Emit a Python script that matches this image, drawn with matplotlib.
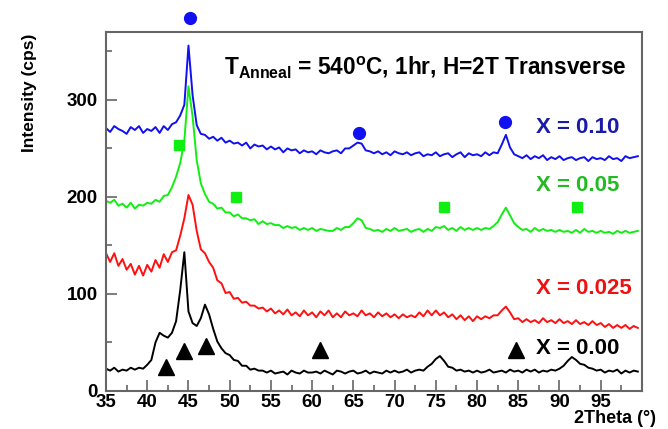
import numpy as np
import matplotlib
matplotlib.use('Agg')
import matplotlib.pyplot as plt
from matplotlib.ticker import MultipleLocator

plt.rcParams['font.family'] = ['Liberation Sans', 'DejaVu Sans']
plt.rcParams['mathtext.fontset'] = 'custom'
plt.rcParams['mathtext.rm'] = 'Liberation Sans:bold'
plt.rcParams['mathtext.bf'] = 'Liberation Sans:bold'

# 2theta grid, 0.5 deg steps (35.0 ... 99.5)
two_theta = np.arange(35.0, 100.0, 0.5)

# intensities (already offset as in the figure)
x010 = [271, 267, 273, 270, 268, 265, 272, 269, 273, 266,
        270, 268, 272, 266, 273, 269, 275, 277, 284, 295,
        356, 305, 274, 265, 264, 260, 262, 258, 261, 256,
        258, 255, 256, 253, 256, 250, 254, 252, 253, 249,
        252, 249, 251, 246, 250, 248, 249, 245, 248, 246,
        247, 244, 248, 246, 245, 247, 248, 245, 250, 250,
        253, 256, 255, 248, 247, 245, 247, 244, 246, 243,
        247, 245, 244, 246, 243, 245, 246, 242, 244, 243,
        246, 242, 244, 245, 241, 244, 246, 241, 245, 243,
        244, 242, 246, 243, 246, 245, 254, 264, 251, 244,
        242, 240, 243, 239, 242, 240, 243, 238, 241, 239,
        242, 238, 240, 241, 238, 240, 241, 237, 241, 239,
        240, 238, 242, 239, 240, 237, 242, 240, 241, 242]

x005 = [196, 194, 197, 191, 193, 189, 194, 188, 192, 191,
        194, 193, 197, 195, 201, 202, 210, 221, 235, 258,
        314, 283, 238, 214, 203, 195, 193, 188, 189, 184,
        184, 180, 182, 178, 178, 176, 177, 172, 175, 172,
        173, 171, 171, 168, 170, 168, 169, 166, 168, 166,
        168, 165, 167, 166, 165, 165, 168, 166, 169, 169,
        173, 178, 176, 168, 167, 165, 166, 164, 167, 165,
        168, 165, 166, 167, 164, 166, 167, 164, 167, 165,
        169, 168, 170, 166, 168, 165, 169, 166, 168, 166,
        168, 166, 168, 167, 170, 174, 182, 189, 181, 173,
        169, 166, 167, 164, 168, 165, 167, 165, 166, 164,
        166, 164, 165, 163, 166, 163, 167, 164, 165, 163,
        165, 163, 164, 162, 165, 163, 165, 163, 164, 165]

x0025 = [142, 133, 142, 129, 136, 125, 131, 120, 129, 119,
         130, 123, 135, 127, 141, 133, 143, 145, 160, 178,
         202, 192, 165, 146, 142, 133, 127, 114, 111, 101,
         102, 95, 96, 91, 92, 88, 88, 85, 86, 82,
         85, 80, 83, 79, 84, 78, 81, 77, 83, 78,
         81, 76, 82, 78, 83, 76, 80, 76, 82, 78,
         80, 77, 83, 78, 80, 76, 81, 77, 80, 76,
         79, 75, 79, 76, 78, 76, 81, 77, 83, 78,
         83, 78, 81, 76, 79, 74, 78, 73, 77, 72,
         77, 74, 77, 75, 78, 78, 83, 87, 81, 74,
         75, 71, 74, 71, 73, 70, 75, 71, 73, 70,
         74, 70, 72, 69, 73, 69, 71, 68, 72, 68,
         70, 66, 69, 65, 68, 65, 68, 64, 67, 65]

x000 = [23, 21, 24, 20, 22, 21, 24, 22, 24, 23,
        27, 32, 50, 60, 57, 55, 60, 72, 104, 143,
        82, 70, 67, 75, 89, 79, 64, 51, 44, 39,
        37, 32, 31, 26, 26, 22, 23, 21, 21, 19,
        21, 18, 19, 20, 17, 21, 19, 18, 21, 19,
        19, 20, 18, 21, 19, 17, 21, 20, 18, 20,
        21, 18, 19, 21, 18, 20, 19, 18, 21, 19,
        21, 19, 20, 22, 19, 21, 22, 21, 25, 28,
        33, 36, 31, 25, 24, 21, 22, 20, 21, 19,
        21, 19, 20, 22, 19, 20, 21, 19, 22, 20,
        21, 19, 22, 20, 22, 19, 21, 20, 22, 21,
        23, 26, 31, 35, 32, 28, 27, 24, 23, 21,
        22, 19, 21, 20, 22, 18, 21, 19, 21, 20]

# phase markers
circle_x = [45.2, 65.7, 83.4]
circle_y = [384, 266, 277]
square_x = [43.8, 50.8, 76.0, 92.1]
square_y = [254, 200, 190, 190]
tri_x = [42.3, 44.4, 47.1, 60.9, 84.7]
tri_y = [25, 41, 46, 42, 42]

blue = '#1010f0'
green = '#11ee11'
red = '#ff1010'

fig = plt.figure(figsize=(6.68, 4.29), dpi=100)
ax = fig.add_axes([0.1587, 0.0886, 0.8023, 0.8368])

ax.plot(two_theta, x010, color=blue, lw=1.4)
ax.plot(two_theta, x005, color=green, lw=1.4)
ax.plot(two_theta, x0025, color=red, lw=1.4)
ax.plot(two_theta, x000, color='black', lw=1.4)

ax.plot(circle_x, circle_y, 'o', color=blue, ms=8.5, ls='none', clip_on=False)
ax.plot(square_x, square_y, 's', color=green, ms=7.5, ls='none')
ax.plot(tri_x, tri_y, '^', color='black', ms=11, ls='none')

ax.set_xlim(35, 100)
ax.set_ylim(0, 370)
ax.xaxis.set_minor_locator(MultipleLocator(2.5))
ax.yaxis.set_major_locator(MultipleLocator(100))
ax.yaxis.set_minor_locator(MultipleLocator(50))
ax.set_xticks(np.arange(35, 100, 5))
ax.tick_params(which='both', direction='in', color='#666666', width=1.2,
               labelsize=13.5)
ax.tick_params(which='major', length=8)
ax.tick_params(which='minor', length=4.5)
ax.tick_params(axis='x', pad=2.5)
ax.tick_params(axis='y', pad=6)
for lab in ax.get_xticklabels() + ax.get_yticklabels():
    lab.set_fontweight('bold')
for sp in ax.spines.values():
    sp.set_color('#666666')
    sp.set_linewidth(1.5)

ax.set_ylabel('Intensity (cps)', fontsize=12.5, fontweight='bold')
ax.yaxis.set_label_coords(-0.128, 0.83)
fig.text(0.982, 0.004, '2Theta (°)', fontsize=13, fontweight='bold',
         ha='right', va='bottom')

ax.text(0.595, 0.902,
        r'T$_{\mathrm{Anneal}}$ = 540$^{\mathrm{o}}$C, 1hr, H=2T Transverse',
        transform=ax.transAxes, fontsize=16.3, fontweight='bold',
        ha='center', va='center')

ax.text(87.1, 272, 'X = 0.10', color='#1a1aa8', fontsize=16,
        fontweight='bold', va='center')
ax.text(87.1, 212, 'X = 0.05', color='#22bb22', fontsize=16,
        fontweight='bold', va='center')
ax.text(87.1, 106, 'X = 0.025', color='#ee1111', fontsize=16,
        fontweight='bold', va='center')
ax.text(87.1, 44, 'X = 0.00', color='black', fontsize=16,
        fontweight='bold', va='center')

fig.savefig('out.png', dpi=100)
